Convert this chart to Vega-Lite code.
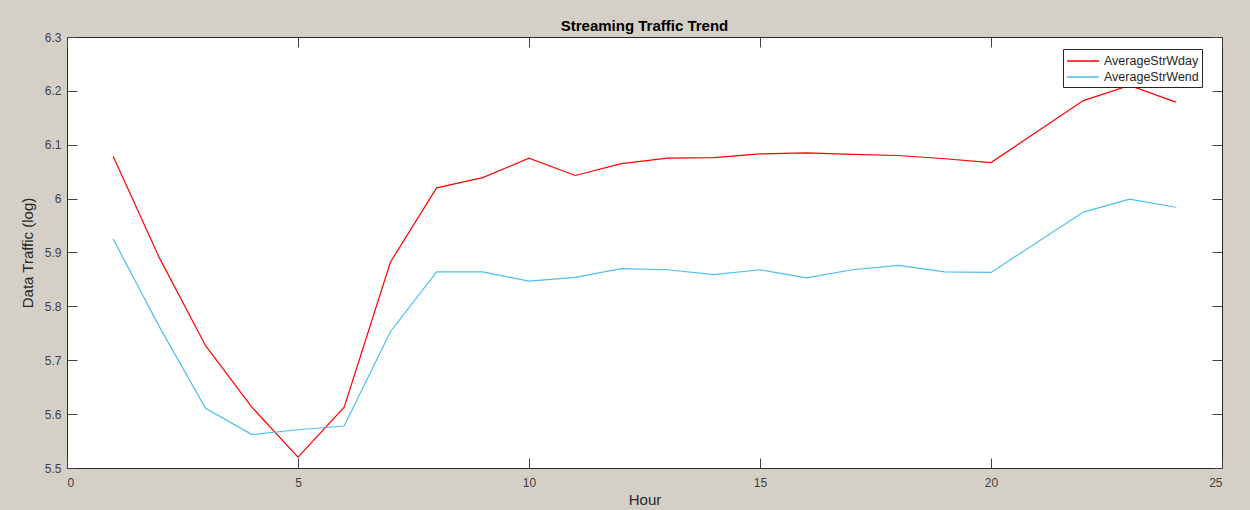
{
  "$schema": "https://vega.github.io/schema/vega-lite/v6.json",
  "autosize": "none",
  "width": 1155,
  "height": 431,
  "padding": {"left": 67, "top": 37, "right": 28, "bottom": 42},
  "background": "#d4d0c8",
  "config": {
    "font": "Liberation Sans",
    "view": {"fill": "white", "stroke": "#262626", "strokeWidth": 1},
    "axis": {"grid": false, "domain": false, "tickColor": "#404040", "tickSize": -10, "labelColor": "#404040", "labelFontSize": 12, "titleFontSize": 15, "titleFontWeight": "normal", "titleColor": "#262626"}
  },
  "title": {"text": "Streaming Traffic Trend", "fontSize": 15, "fontWeight": "bold", "color": "#000000", "anchor": "middle", "offset": -3},
  "data": {"values": [
    {"Hour": 1, "series": "AverageStrWday", "value": 6.078},
    {"Hour": 2, "series": "AverageStrWday", "value": 5.89},
    {"Hour": 3, "series": "AverageStrWday", "value": 5.727},
    {"Hour": 4, "series": "AverageStrWday", "value": 5.613},
    {"Hour": 5, "series": "AverageStrWday", "value": 5.52},
    {"Hour": 6, "series": "AverageStrWday", "value": 5.613},
    {"Hour": 7, "series": "AverageStrWday", "value": 5.882},
    {"Hour": 8, "series": "AverageStrWday", "value": 6.02},
    {"Hour": 9, "series": "AverageStrWday", "value": 6.039},
    {"Hour": 10, "series": "AverageStrWday", "value": 6.075},
    {"Hour": 11, "series": "AverageStrWday", "value": 6.043},
    {"Hour": 12, "series": "AverageStrWday", "value": 6.065},
    {"Hour": 13, "series": "AverageStrWday", "value": 6.075},
    {"Hour": 14, "series": "AverageStrWday", "value": 6.076},
    {"Hour": 15, "series": "AverageStrWday", "value": 6.083},
    {"Hour": 16, "series": "AverageStrWday", "value": 6.085},
    {"Hour": 17, "series": "AverageStrWday", "value": 6.082},
    {"Hour": 18, "series": "AverageStrWday", "value": 6.08},
    {"Hour": 19, "series": "AverageStrWday", "value": 6.074},
    {"Hour": 20, "series": "AverageStrWday", "value": 6.067},
    {"Hour": 22, "series": "AverageStrWday", "value": 6.182},
    {"Hour": 23, "series": "AverageStrWday", "value": 6.21},
    {"Hour": 24, "series": "AverageStrWday", "value": 6.179},
    {"Hour": 1, "series": "AverageStrWend", "value": 5.925},
    {"Hour": 2, "series": "AverageStrWend", "value": 5.762},
    {"Hour": 3, "series": "AverageStrWend", "value": 5.611},
    {"Hour": 4, "series": "AverageStrWend", "value": 5.562},
    {"Hour": 5, "series": "AverageStrWend", "value": 5.571},
    {"Hour": 6, "series": "AverageStrWend", "value": 5.578},
    {"Hour": 7, "series": "AverageStrWend", "value": 5.753},
    {"Hour": 8, "series": "AverageStrWend", "value": 5.864},
    {"Hour": 9, "series": "AverageStrWend", "value": 5.864},
    {"Hour": 10, "series": "AverageStrWend", "value": 5.847},
    {"Hour": 11, "series": "AverageStrWend", "value": 5.854},
    {"Hour": 12, "series": "AverageStrWend", "value": 5.87},
    {"Hour": 13, "series": "AverageStrWend", "value": 5.868},
    {"Hour": 14, "series": "AverageStrWend", "value": 5.859},
    {"Hour": 15, "series": "AverageStrWend", "value": 5.868},
    {"Hour": 16, "series": "AverageStrWend", "value": 5.853},
    {"Hour": 17, "series": "AverageStrWend", "value": 5.868},
    {"Hour": 18, "series": "AverageStrWend", "value": 5.876},
    {"Hour": 19, "series": "AverageStrWend", "value": 5.864},
    {"Hour": 20, "series": "AverageStrWend", "value": 5.863},
    {"Hour": 22, "series": "AverageStrWend", "value": 5.975},
    {"Hour": 23, "series": "AverageStrWend", "value": 5.999},
    {"Hour": 24, "series": "AverageStrWend", "value": 5.984}
  ]},
  "layer": [
    {
      "mark": {"type": "line", "strokeWidth": 1.2},
      "encoding": {
        "x": {"field": "Hour", "type": "quantitative", "scale": {"domain": [0, 25], "nice": false}, "axis": {"values": [0, 5, 10, 15, 20, 25], "title": "Hour", "labelPadding": 19, "titlePadding": 4}},
        "y": {"field": "value", "type": "quantitative", "scale": {"domain": [5.5, 6.3], "nice": false, "zero": false}, "axis": {"values": [5.5, 5.6, 5.7, 5.8, 5.9, 6, 6.1, 6.2, 6.3], "format": ".1~f", "title": "Data Traffic (log)", "labelPadding": 16, "titlePadding": 9}},
        "color": {"field": "series", "type": "nominal", "scale": {"domain": ["AverageStrWday", "AverageStrWend"], "range": ["#ff0000", "#4dbeee"]},
          "legend": {"title": null, "orient": "none", "legendX": 996, "legendY": 12, "symbolType": "M-1,0H3", "symbolSize": 256, "symbolStrokeWidth": 1.5, "labelFontSize": 12.5, "labelColor": "#262626", "strokeColor": "#262626", "fillColor": "white", "padding": 3, "rowPadding": 0, "labelOffset": 20}}
      }
    },
    {
      "mark": {"type": "line", "opacity": 0},
      "encoding": {
        "x": {"field": "Hour", "type": "quantitative", "axis": {"orient": "top", "values": [0, 5, 10, 15, 20, 25], "labels": false, "title": null}},
        "y": {"field": "value", "type": "quantitative", "axis": {"orient": "right", "values": [5.5, 5.6, 5.7, 5.8, 5.9, 6, 6.1, 6.2, 6.3], "labels": false, "title": null}},
        "detail": {"field": "series"}
      }
    }
  ],
  "resolve": {"axis": {"x": "independent", "y": "independent"}}
}
